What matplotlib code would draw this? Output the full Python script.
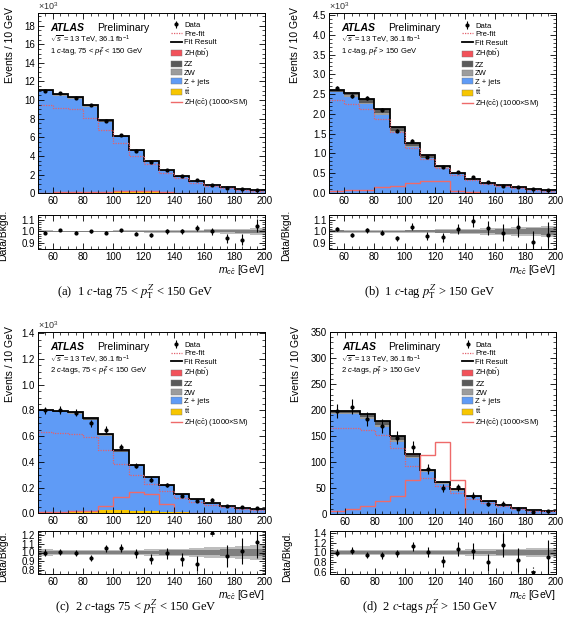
import numpy as np
import matplotlib
matplotlib.use('Agg')
import matplotlib.pyplot as plt
from matplotlib.ticker import MultipleLocator, AutoMinorLocator, FormatStrFormatter
from matplotlib.lines import Line2D
from matplotlib.patches import Patch

plt.rcParams['font.family'] = ['Liberation Sans', 'DejaVu Sans']
plt.rcParams['mathtext.fontset'] = 'custom'
plt.rcParams['mathtext.rm'] = 'Liberation Sans'
plt.rcParams['mathtext.it'] = 'Liberation Sans:italic'
plt.rcParams['mathtext.bf'] = 'Liberation Sans:bold'

# m_cc bins [GeV]
mcc_edges = [50, 60, 70, 80, 90, 100, 110, 120, 130, 140, 150, 160, 170, 180, 190, 200]

# (a) 1 c-tag, 75 < pTZ < 150 GeV   (x10^3 events)
tt_a    = [0.08, 0.10, 0.13, 0.16, 0.18, 0.18, 0.16, 0.13, 0.10, 0.07, 0.05, 0.04, 0.03, 0.02, 0.015]
zjets_a = [10.87, 10.37, 10.0, 9.09, 7.45, 5.81, 4.37, 3.28, 2.33, 1.70, 1.25, 0.85, 0.60, 0.44, 0.30]
zw_a    = [0.05, 0.06, 0.07, 0.08, 0.07, 0.05, 0.04, 0.03, 0.02, 0.015, 0.01, 0.008, 0.006, 0.004, 0.003]
zz_a    = [0.10, 0.12, 0.14, 0.16, 0.14, 0.10, 0.07, 0.05, 0.04, 0.03, 0.02, 0.015, 0.01, 0.008, 0.006]
zhbb_a  = [0.003, 0.004, 0.005, 0.006, 0.008, 0.01, 0.012, 0.012, 0.01, 0.007, 0.005, 0.003, 0.002, 0.001, 0.001]
prefit_a = [9.5, 9.1, 9.0, 8.1, 6.8, 5.35, 4.0, 3.1, 2.2, 1.6, 1.15, 0.8, 0.55, 0.38, 0.25]
zhcc_a  = [0.08, 0.09, 0.10, 0.12, 0.15, 0.28, 0.30, 0.28, 0.10, 0.03, 0.02, 0.01, 0.01, 0.005, 0.005]
ratio_a = [0.99, 1.01, 0.99, 1.0, 0.99, 1.01, 0.98, 0.97, 1.0, 1.0, 1.03, 1.0, 0.94, 0.93, 1.05]
band_out_a = [0.008, 0.007, 0.007, 0.007, 0.007, 0.008, 0.009, 0.010, 0.011, 0.012, 0.014, 0.017, 0.020, 0.024, 0.028]
band_in_a  = [0.004, 0.004, 0.004, 0.004, 0.004, 0.004, 0.005, 0.005, 0.006, 0.006, 0.007, 0.008, 0.009, 0.010, 0.012]

# (b) 1 c-tag, pTZ > 150 GeV   (x10^3 events)
tt_b    = [0.005, 0.006, 0.007, 0.008, 0.008, 0.007, 0.006, 0.005, 0.004, 0.003, 0.002, 0.002, 0.001, 0.001, 0.001]
zjets_b = [2.54, 2.43, 2.24, 1.97, 1.53, 1.16, 0.87, 0.635, 0.472, 0.332, 0.241, 0.175, 0.129, 0.0925, 0.069]
zw_b    = [0.02, 0.03, 0.04, 0.05, 0.04, 0.03, 0.02, 0.015, 0.01, 0.007, 0.005, 0.004, 0.003, 0.002, 0.0015]
zz_b    = [0.04, 0.06, 0.08, 0.10, 0.09, 0.07, 0.05, 0.03, 0.02, 0.015, 0.01, 0.008, 0.006, 0.004, 0.003]
zhbb_b  = [0.001, 0.001, 0.002, 0.002, 0.003, 0.004, 0.005, 0.005, 0.004, 0.003, 0.002, 0.001, 0.001, 0.0005, 0.0005]
prefit_b = [2.34, 2.26, 2.13, 1.88, 1.55, 1.13, 0.85, 0.63, 0.46, 0.33, 0.23, 0.17, 0.12, 0.08, 0.06]
zhcc_b  = [0.06, 0.07, 0.08, 0.15, 0.17, 0.25, 0.30, 0.31, 0.05, 0.02, 0.01, 0.005, 0.003, 0.002, 0.001]
ratio_b = [1.02, 0.97, 1.01, 0.99, 0.94, 1.04, 0.96, 0.95, 1.02, 1.09, 1.03, 0.99, 1.04, 0.91, 0.97]
band_out_b = [0.015, 0.014, 0.013, 0.013, 0.013, 0.014, 0.015, 0.017, 0.020, 0.023, 0.027, 0.031, 0.036, 0.041, 0.046]
band_in_b  = [0.008, 0.007, 0.007, 0.007, 0.007, 0.008, 0.009, 0.010, 0.012, 0.014, 0.016, 0.019, 0.022, 0.025, 0.028]

# (c) 2 c-tags, 75 < pTZ < 150 GeV   (x10^3 events)
tt_c    = [0.010, 0.012, 0.015, 0.020, 0.022, 0.022, 0.020, 0.016, 0.012, 0.008, 0.006, 0.004, 0.003, 0.002, 0.002]
zjets_c = [0.783, 0.773, 0.760, 0.704, 0.580, 0.453, 0.344, 0.261, 0.2015, 0.137, 0.101, 0.0736, 0.0554, 0.0418, 0.0321]
zw_c    = [0.002, 0.003, 0.004, 0.005, 0.004, 0.003, 0.002, 0.0015, 0.001, 0.0008, 0.0006, 0.0004, 0.0003, 0.0002, 0.0002]
zz_c    = [0.004, 0.006, 0.010, 0.015, 0.013, 0.010, 0.007, 0.005, 0.004, 0.003, 0.002, 0.0015, 0.001, 0.0008, 0.0006]
zhbb_c  = [0.0005, 0.0006, 0.0008, 0.001, 0.0012, 0.0015, 0.0018, 0.0018, 0.0015, 0.001, 0.0007, 0.0005, 0.0003, 0.0002, 0.0001]
prefit_c = [0.63, 0.625, 0.62, 0.59, 0.49, 0.385, 0.295, 0.225, 0.175, 0.12, 0.087, 0.063, 0.047, 0.035, 0.028]
zhcc_c  = [0.01, 0.01, 0.015, 0.02, 0.056, 0.125, 0.167, 0.153, 0.07, 0.005, 0.002, 0.001, 0.001, 0.0005, 0.0005]
ratio_c = [1.0, 1.01, 0.99, 0.94, 1.05, 1.05, 0.99, 0.92, 0.99, 0.92, 0.87, 1.32, 0.96, 1.02, 1.12]
band_out_c = [0.035, 0.033, 0.032, 0.031, 0.031, 0.032, 0.034, 0.037, 0.041, 0.046, 0.052, 0.059, 0.066, 0.074, 0.082]
band_in_c  = [0.020, 0.019, 0.018, 0.018, 0.018, 0.019, 0.020, 0.022, 0.024, 0.027, 0.030, 0.034, 0.038, 0.042, 0.046]

# (d) 2 c-tags, pTZ > 150 GeV   (events)
tt_d    = [0.5, 0.6, 0.8, 1.0, 1.0, 1.0, 0.8, 0.6, 0.5, 0.3, 0.2, 0.2, 0.1, 0.1, 0.1]
zjets_d = [192.9, 192.3, 183.0, 166.8, 138.7, 106.6, 80.2, 57.9, 44.9, 32.9, 23.4, 16.9, 12.2, 7.95, 6.55]
zw_d    = [1.5, 2.0, 3.0, 4.0, 3.0, 2.0, 1.5, 1.0, 0.7, 0.5, 0.4, 0.3, 0.2, 0.1, 0.1]
zz_d    = [3.0, 4.0, 6.0, 8.0, 7.0, 5.0, 3.0, 2.0, 1.5, 1.0, 0.8, 0.5, 0.4, 0.3, 0.2]
zhbb_d  = [0.1, 0.1, 0.2, 0.2, 0.3, 0.4, 0.5, 0.5, 0.4, 0.3, 0.2, 0.1, 0.1, 0.05, 0.05]
prefit_d = [166, 166, 162, 153, 127, 92, 69, 55, 40, 29, 21, 15, 11, 7, 6]
zhcc_d  = [7, 10, 15, 25, 36, 66, 114, 139, 66, 0, 0, 0, 0, 0, 0]
ratio_d = [1.0, 1.04, 0.95, 0.94, 0.98, 1.13, 1.01, 0.82, 1.08, 1.03, 0.80, 1.15, 0.84, 0.47, 0.90]
band_out_d = [0.055, 0.052, 0.050, 0.050, 0.050, 0.051, 0.053, 0.056, 0.060, 0.064, 0.069, 0.074, 0.080, 0.086, 0.092]
band_in_d  = [0.030, 0.029, 0.028, 0.028, 0.028, 0.029, 0.030, 0.032, 0.034, 0.036, 0.039, 0.042, 0.045, 0.048, 0.052]

col_zhbb = '#f2525a'
col_zz = '#5a5a5a'
col_zw = '#9c9c9c'
col_zjets = '#5f9bf6'
col_tt = '#f7c600'
col_prefit = '#e2606c'
col_zhcc = '#ee6a6a'

W, H = 567, 629
fig = plt.figure(figsize=(W / 100, H / 100), dpi=100)


def box(l, t, r, b):
    return [l / W, 1 - b / H, (r - l) / W, (b - t) / H]


def draw(ax, rax, comps, prefit, zhcc, ratio, band_out, band_in, scale,
         ylim, ymaj, yfmt, rlim, rmaj, region, caption, cap_xy, x1e3, lab_x):
    edges = np.array(mcc_edges)
    centers = (edges[:-1] + edges[1:]) / 2
    tt, zjets, zw, zz, zhbb = [np.array(c, dtype=float) for c in comps]
    # stack: tt, Z+jets, ZW, ZZ, ZH(bb)
    bottom = np.zeros(len(centers))
    for vals, c in [(tt, col_tt), (zjets, col_zjets), (zw, col_zw), (zz, col_zz), (zhbb, col_zhbb)]:
        ax.stairs(bottom + vals, edges, baseline=bottom, fill=True, color=c, lw=0)
        bottom = bottom + vals
    total = bottom
    ax.stairs(total, edges, baseline=None, color='black', lw=1.3)
    ax.stairs(prefit, edges, baseline=None, color=col_prefit, lw=0.9, ls=(0, (1, 1)))
    ax.stairs(zhcc, edges, baseline=None, color=col_zhcc, lw=1.0)

    ratio = np.array(ratio)
    data = total * ratio
    err = np.sqrt(data * scale) / scale
    eb = ax.errorbar(centers, data, yerr=err, fmt='o', ms=2, color='black',
                     elinewidth=0.8, capsize=0)

    ax.set_xlim(50, 200)
    ax.set_ylim(*ylim)
    ax.yaxis.set_major_locator(MultipleLocator(ymaj))
    ax.yaxis.set_major_formatter(FormatStrFormatter(yfmt))
    ax.set_ylabel('Events / 10 GeV', fontsize=7.5, loc='top')
    ax.yaxis.set_label_coords(lab_x[0], 1.03)
    if x1e3:
        ax.text(0.0, 1.004, r'$\times10^{3}$', transform=ax.transAxes, fontsize=6.5,
                ha='left', va='bottom', color='#333333')

    ax.text(0.054, 0.915, 'ATLAS', transform=ax.transAxes, fontsize=7.5,
            fontweight='bold', fontstyle='italic', va='center')
    ax.text(0.26, 0.915, 'Preliminary', transform=ax.transAxes, fontsize=7.5, va='center')
    ax.text(0.052, 0.848, r'$\sqrt{s}$ = 13 TeV, 36.1 fb$^{-1}$', transform=ax.transAxes,
            fontsize=5.5, va='center')
    ax.text(0.052, 0.782, region, transform=ax.transAxes, fontsize=5.5, va='center')

    handles = [eb,
               Line2D([], [], color=col_prefit, lw=0.9, ls=(0, (1, 1))),
               Line2D([], [], color='black', lw=1.3),
               Patch(facecolor=col_zhbb, edgecolor='#777777', lw=0.3),
               Patch(facecolor=col_zz, edgecolor='#777777', lw=0.3),
               Patch(facecolor=col_zw, edgecolor='#777777', lw=0.3),
               Patch(facecolor=col_zjets, edgecolor='#777777', lw=0.3),
               Patch(facecolor=col_tt, edgecolor='#777777', lw=0.3),
               Line2D([], [], color=col_zhcc, lw=1.0)]
    labels = ['Data', 'Pre-fit', 'Fit Result', r'ZH($\mathrm{b\bar{b}}$)', 'ZZ', 'ZW',
              'Z + jets', r'$\mathrm{t\bar{t}}$', r'ZH($\mathrm{c\bar{c}}$) (1000$\times$SM)']
    ax.legend(handles, labels, loc='upper left', bbox_to_anchor=(0.585, 0.95),
              frameon=False, fontsize=5.5, borderpad=0, borderaxespad=0,
              handlelength=1.45, handleheight=0.85, handletextpad=0.3, labelspacing=0.12)

    # ratio panel
    rax.stairs(1 + np.array(band_out), edges, baseline=1 - np.array(band_out),
               fill=True, color='#bdbdbd', lw=0)
    rax.stairs(1 + np.array(band_in), edges, baseline=1 - np.array(band_in),
               fill=True, color='#808080', lw=0)
    rerr = err / total
    inside = (ratio > rlim[0]) & (ratio < rlim[1])
    rax.errorbar(centers[inside], ratio[inside], yerr=rerr[inside], fmt='o', ms=2,
                 color='black', elinewidth=0.8, capsize=0)
    for x, r, e in zip(centers[~inside], ratio[~inside], rerr[~inside]):
        if r > rlim[1]:
            rax.vlines(x, max(r - e, rlim[0]), rlim[1], colors='black', lw=0.8, ls=':')
            rax.plot(x, rlim[1] - 0.02 * (rlim[1] - rlim[0]), marker='^', ms=2.5, color='black')
        else:
            rax.vlines(x, rlim[0], min(r + e, rlim[1]), colors='black', lw=0.8, ls=':')
            rax.plot(x, rlim[0] + 0.02 * (rlim[1] - rlim[0]), marker='v', ms=2.5, color='black')
    rax.set_xlim(50, 200)
    rax.set_ylim(*rlim)
    rax.yaxis.set_major_locator(MultipleLocator(rmaj))
    rax.yaxis.set_major_formatter(FormatStrFormatter('%.1f'))
    rax.set_ylabel('Data/Bkgd.', fontsize=7.5)
    rax.yaxis.set_label_coords(lab_x[1], 0.4)
    rax.set_xlabel(r'$m_{c\bar{c}}$ [GeV]', fontsize=7.5, loc='right', labelpad=1)

    for a in (ax, rax):
        a.xaxis.set_major_locator(MultipleLocator(20))
        a.xaxis.set_minor_locator(MultipleLocator(5))
        a.yaxis.set_minor_locator(AutoMinorLocator())
        a.tick_params(which='both', direction='in', top=True, right=True, labelsize=7, pad=2)
        a.tick_params(which='major', length=4, width=0.6)
        a.tick_params(which='minor', length=2, width=0.5)
        for s in a.spines.values():
            s.set_linewidth(0.7)

    fig.text(cap_xy[0], cap_xy[1], caption, fontsize=9, ha='center', va='center',
             family='Liberation Serif', math_fontfamily='stix')


axa = fig.add_axes(box(37.7, 12.5, 265, 193.3))
raxa = fig.add_axes(box(37.7, 215, 265, 249))
draw(axa, raxa, [tt_a, zjets_a, zw_a, zz_a, zhbb_a], prefit_a, zhcc_a, ratio_a,
     band_out_a, band_in_a, 1000, (0, 19.4), 2, '%d', (0.85, 1.14), 0.1,
     r'1 $c$-tag, 75 < $p_{\mathrm{T}}^{Z}$ < 150 GeV',
     r'(a)  1 $c$-tag 75 < $p_{\mathrm{T}}^{Z}$ < 150 GeV', (0.238, 1 - 292 / H), True,
     (-0.1, -0.128))

axb = fig.add_axes(box(329, 13, 556, 193))
raxb = fig.add_axes(box(329, 215, 556, 249))
draw(axb, raxb, [tt_b, zjets_b, zw_b, zz_b, zhbb_b], prefit_b, zhcc_b, ratio_b,
     band_out_b, band_in_b, 1000, (0, 4.55), 0.5, '%.1f', (0.85, 1.14), 0.1,
     r'1 $c$-tag, $p_{\mathrm{T}}^{Z}$ > 150 GeV',
     r'(b)  1 $c$-tag $p_{\mathrm{T}}^{Z}$ > 150 GeV', (0.758, 1 - 292 / H), True,
     (-0.128, -0.165))

axc = fig.add_axes(box(37.7, 332, 265, 513.3))
raxc = fig.add_axes(box(37.7, 531, 265, 574))
draw(axc, raxc, [tt_c, zjets_c, zw_c, zz_c, zhbb_c], prefit_c, zhcc_c, ratio_c,
     band_out_c, band_in_c, 1000, (0, 1.41), 0.2, '%.1f', (0.75, 1.25), 0.1,
     r'2 $c$-tags, 75 < $p_{\mathrm{T}}^{Z}$ < 150 GeV',
     r'(c)  2 $c$-tags 75 < $p_{\mathrm{T}}^{Z}$ < 150 GeV', (0.24, 1 - 607 / H), True,
     (-0.1, -0.128))

axd = fig.add_axes(box(329.5, 332, 556, 514.3))
raxd = fig.add_axes(box(329.5, 531, 556, 574))
draw(axd, raxd, [tt_d, zjets_d, zw_d, zz_d, zhbb_d], prefit_d, zhcc_d, ratio_d,
     band_out_d, band_in_d, 1, (0, 350), 50, '%d', (0.55, 1.45), 0.2,
     r'2 $c$-tags, $p_{\mathrm{T}}^{Z}$ > 150 GeV',
     r'(d)  2 $c$-tags $p_{\mathrm{T}}^{Z}$ > 150 GeV', (0.758, 1 - 607 / H), False,
     (-0.128, -0.165))

fig.savefig('out.png', dpi=100)
